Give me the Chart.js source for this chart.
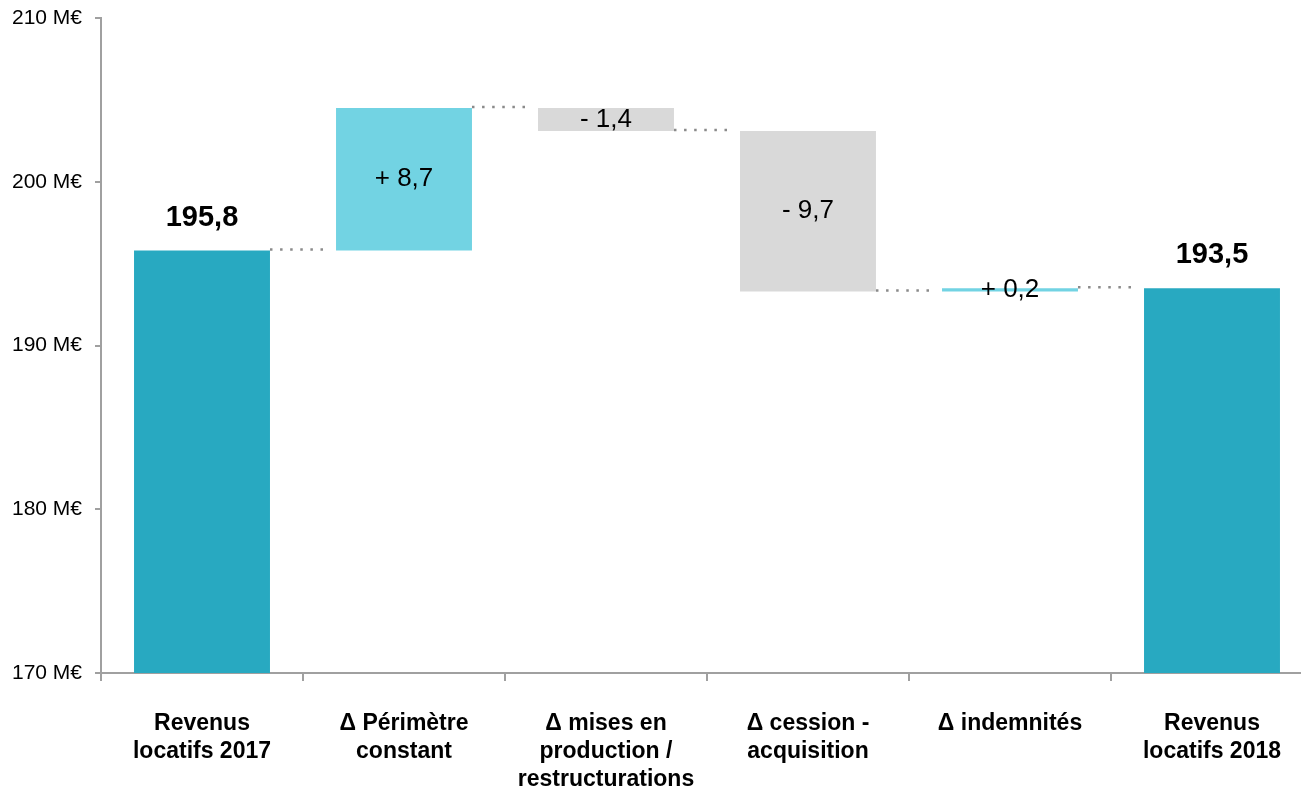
<!DOCTYPE html>
<html>
<head>
<meta charset="utf-8">
<script src="https://cdn.jsdelivr.net/npm/chart.js@4"></script>
<style>
    body { margin: 0; overflow: hidden; background: #fff; }
</style>
</head>
<body>
<canvas id="waterfallChart" width="1320" height="787"></canvas>
<script>
// Categories (x axis), one array per label line
const categories = [
    ['Revenus', 'locatifs 2017'],
    ['Δ Périmètre', 'constant'],
    ['Δ mises en', 'production /', 'restructurations'],
    ['Δ cession -', 'acquisition'],
    ['Δ indemnités'],
    ['Revenus', 'locatifs 2018']
];

// Floating bars: start and end of each step (M€)
const barStarts = [170, 195.8, 203.1, 193.3, 193.3, 170];
const barEnds = [195.8, 204.5, 204.5, 203.1, 193.5, 193.5];

// Text shown on each bar
const valueLabels = ['195,8', '+ 8,7', '- 1,4', '- 9,7', '+ 0,2', '193,5'];

// Level of the dotted link after each bar
const linkLevels = [195.8, 204.5, 203.1, 193.3, 193.5];

// Y axis ticks
const yTicks = [170, 180, 190, 200, 210];

const barColors = ['#28a9c1', '#72d3e3', '#d9d9d9', '#d9d9d9', '#72d3e3', '#28a9c1'];

const fontFamily = "'Liberation Sans', Arial, sans-serif";

// Draws the dotted links and the value labels
const waterfallExtras = {
    id: 'waterfallExtras',
    afterDatasetsDraw(chart) {
        const ctx = chart.ctx;
        const bars = chart.getDatasetMeta(0).data;
        const yScale = chart.scales.y;

        // dotted links between bars
        ctx.save();
        ctx.strokeStyle = '#8a8a8a';
        ctx.lineWidth = 2.5;
        ctx.setLineDash([2.5, 7.6]);
        linkLevels.forEach((level, i) => {
            const from = bars[i].x + bars[i].width / 2;
            const to = bars[i + 1].x - bars[i + 1].width / 2 - 12;
            const y = yScale.getPixelForValue(level) - 1;
            ctx.beginPath();
            ctx.moveTo(from, y);
            ctx.lineTo(to, y);
            ctx.stroke();
        });
        ctx.restore();

        // value labels
        ctx.save();
        ctx.fillStyle = '#000';
        ctx.textAlign = 'center';
        bars.forEach((bar, i) => {
            const top = Math.min(bar.y, bar.base);
            const bottom = Math.max(bar.y, bar.base);
            if (i === 0 || i === bars.length - 1) {
                // totals: bold, above the bar
                ctx.font = 'bold 29px ' + fontFamily;
                ctx.textBaseline = 'alphabetic';
                ctx.fillText(valueLabels[i], bar.x, top - 25);
            } else {
                // deltas: inside the bar
                ctx.font = '26px ' + fontFamily;
                ctx.textBaseline = 'middle';
                ctx.fillText(valueLabels[i], bar.x, (top + bottom) / 2);
            }
        });
        ctx.restore();
    }
};

const ctx = document.getElementById('waterfallChart').getContext('2d');
new Chart(ctx, {
    type: 'bar',
    data: {
        labels: categories,
        datasets: [{
            data: barStarts.map((start, i) => [start, barEnds[i]]),
            backgroundColor: barColors,
            borderWidth: 0,
            barPercentage: 0.673,
            categoryPercentage: 1
        }]
    },
    options: {
        responsive: false,
        animation: false,
        layout: {
            padding: { top: 18, right: 7, left: 0, bottom: 0 }
        },
        plugins: {
            legend: { display: false },
            tooltip: { enabled: false }
        },
        scales: {
            x: {
                grid: {
                    offset: true,
                    drawOnChartArea: false,
                    tickLength: 8,
                    color: '#a0a0a0',
                    lineWidth: 2
                },
                border: { color: '#a0a0a0', width: 2 },
                ticks: {
                    color: '#000',
                    padding: 29,
                    maxRotation: 0,
                    autoSkip: false,
                    font: { family: fontFamily, size: 23, weight: 'bold', lineHeight: 1.22 }
                },
                afterFit: function(scale) {
                    scale.height = 114;
                    scale.paddingLeft = 0;
                    scale.paddingRight = 0;
                }
            },
            y: {
                min: 170,
                max: 210,
                afterBuildTicks: function(scale) {
                    scale.ticks = yTicks.map(v => ({ value: v }));
                },
                grid: {
                    drawOnChartArea: false,
                    tickLength: 6,
                    color: '#a0a0a0',
                    lineWidth: 2
                },
                border: { color: '#a0a0a0', width: 2 },
                ticks: {
                    color: '#000',
                    padding: 13,
                    font: { family: fontFamily, size: 21 },
                    callback: function(value) {
                        return value + ' M€';
                    }
                },
                afterFit: function(scale) {
                    scale.width = 101;
                    scale.paddingTop = 0;
                    scale.paddingBottom = 0;
                }
            }
        }
    },
    plugins: [waterfallExtras]
});
</script>
</body>
</html>
